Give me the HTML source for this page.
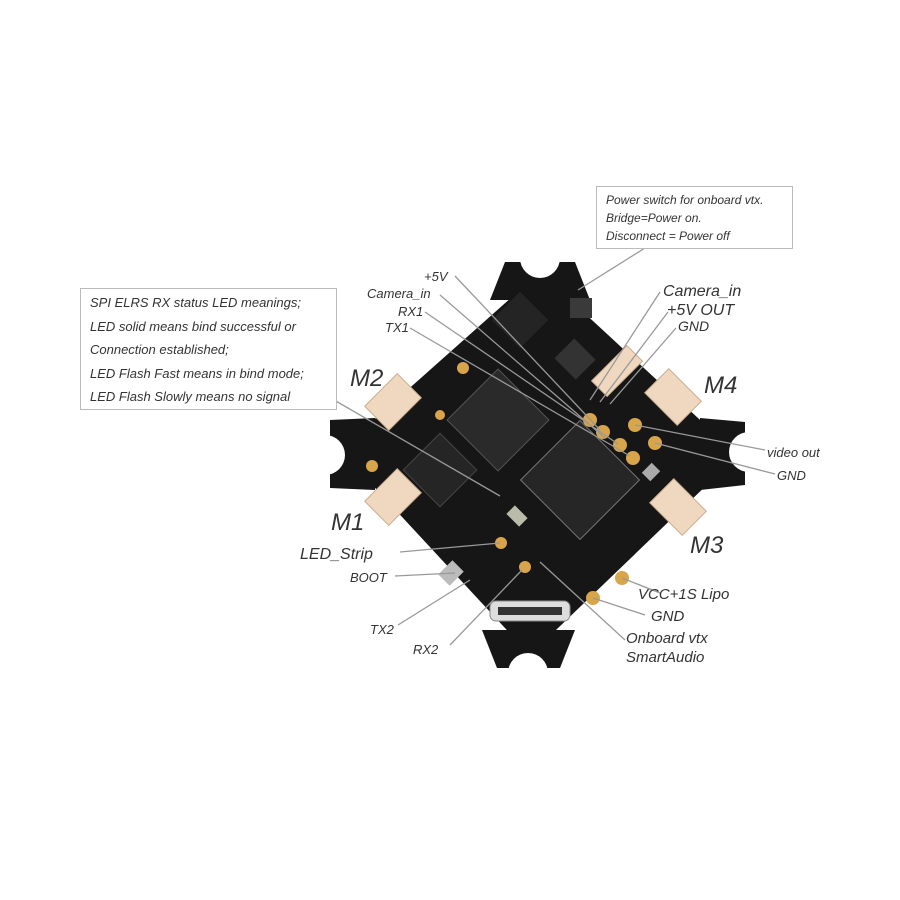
<!DOCTYPE html>
<html><head><style>
body{margin:0;background:#fff;width:900px;height:900px;overflow:hidden}
svg{display:block}
text{font-family:"Liberation Sans",sans-serif;font-style:italic;fill:#333}
</style></head><body>
<svg width="900" height="900" viewBox="0 0 900 900">
<rect width="900" height="900" fill="#fff"/>
<!-- board -->
<g fill="#161616">
<polygon points="540,272 738,455 530,655 340,450"/>
<polygon points="505,262 575,262 590,300 490,300"/>
<polygon points="745,422 745,485 700,490 700,418"/>
<polygon points="497,668 560,668 575,630 482,630"/>
<polygon points="330,420 330,488 375,490 375,418"/>
</g>
<!-- notches -->
<circle cx="540" cy="258" r="20" fill="#fff"/>
<circle cx="749" cy="452" r="20" fill="#fff"/>
<circle cx="528" cy="673" r="20" fill="#fff"/>
<circle cx="325" cy="455" r="20" fill="#fff"/>
<!-- chips -->
<g transform="rotate(45 498 420)"><rect x="462" y="384" width="72" height="72" fill="#2a2a2a" stroke="#555"/></g>
<g transform="rotate(45 580 480)"><rect x="538" y="438" width="84" height="84" fill="#262626" stroke="#777"/></g>
<g transform="rotate(45 440 470)"><rect x="414" y="444" width="52" height="52" fill="#252525" stroke="#444"/></g>
<g transform="rotate(45 520 320)"><rect x="500" y="300" width="40" height="40" fill="#242424"/></g>
<rect x="560" y="345" width="30" height="28" fill="#333" transform="rotate(45 575 359)"/>
<rect x="570" y="298" width="22" height="20" fill="#3a3a3a"/>
<!-- connectors -->
<g fill="#efd8bf" stroke="#c9ad8e">
<rect x="370" y="385" width="46" height="34" transform="rotate(-45 393 402)"/>
<rect x="370" y="480" width="46" height="34" transform="rotate(-45 393 497)"/>
<rect x="650" y="380" width="46" height="34" transform="rotate(45 673 397)"/>
<rect x="655" y="490" width="46" height="34" transform="rotate(45 678 507)"/>
<rect x="592" y="360" width="50" height="22" transform="rotate(-45 617 371)"/>
</g>
<!-- pads -->
<g fill="#d9a54a">
<circle cx="590" cy="420" r="7"/><circle cx="603" cy="432" r="7"/><circle cx="620" cy="445" r="7"/><circle cx="633" cy="458" r="7"/>
<circle cx="635" cy="425" r="7"/><circle cx="655" cy="443" r="7"/>
<circle cx="501" cy="543" r="6"/><circle cx="525" cy="567" r="6"/>
<circle cx="440" cy="415" r="5"/>
<circle cx="622" cy="578" r="7"/><circle cx="593" cy="598" r="7"/>
<circle cx="372" cy="466" r="6"/><circle cx="463" cy="368" r="6"/>
</g>
<rect x="443" y="563" width="16" height="20" fill="#bbb" transform="rotate(45 451 573)"/>
<rect x="645" y="465" width="12" height="14" fill="#aaa" transform="rotate(45 651 472)"/>
<rect x="490" y="601" width="80" height="20" rx="6" fill="#ddd" stroke="#888"/>
<rect x="498" y="607" width="64" height="8" fill="#333"/>
<rect x="508" y="510" width="18" height="12" fill="#bba" transform="rotate(45 517 516)"/>
<!-- leader lines -->
<g stroke="#999" stroke-width="1.3" fill="none">
<line x1="578" y1="290" x2="645" y2="248"/>
<line x1="322" y1="393" x2="500" y2="496"/>
<line x1="455" y1="276" x2="600" y2="430"/>
<line x1="440" y1="295" x2="605" y2="438"/>
<line x1="425" y1="312" x2="618" y2="444"/>
<line x1="410" y1="328" x2="630" y2="456"/>
<line x1="660" y1="292" x2="590" y2="400"/>
<line x1="668" y1="312" x2="600" y2="402"/>
<line x1="676" y1="328" x2="610" y2="404"/>
<line x1="635" y1="425" x2="765" y2="450"/>
<line x1="655" y1="443" x2="775" y2="474"/>
<line x1="400" y1="552" x2="500" y2="543"/>
<line x1="395" y1="576" x2="455" y2="573"/>
<line x1="398" y1="625" x2="470" y2="580"/>
<line x1="450" y1="645" x2="522" y2="570"/>
<line x1="622" y1="578" x2="660" y2="593"/>
<line x1="593" y1="598" x2="645" y2="615"/>
<line x1="540" y1="562" x2="625" y2="640"/>
</g>
<!-- boxes -->
<rect x="80.5" y="288.5" width="256" height="121" fill="#fff" stroke="#bbb"/>
<text x="90" y="307" font-size="13">SPI ELRS RX status LED meanings;</text>
<text x="90" y="331" font-size="13">LED solid means bind successful or</text>
<text x="90" y="354" font-size="13">Connection established;</text>
<text x="90" y="378" font-size="13">LED Flash Fast means in bind mode;</text>
<text x="90" y="401" font-size="13">LED Flash Slowly means no signal</text>
<rect x="596.5" y="186.5" width="196" height="62" fill="#fff" stroke="#bbb"/>
<text x="606" y="204" font-size="12">Power switch for onboard vtx.</text>
<text x="606" y="222" font-size="12">Bridge=Power on.</text>
<text x="606" y="240" font-size="12">Disconnect = Power off</text>
<!-- labels -->
<g font-size="13">
<text x="424" y="281">+5V</text>
<text x="367" y="298">Camera_in</text>
<text x="398" y="316">RX1</text>
<text x="385" y="332">TX1</text>
<text x="663" y="296" font-size="16">Camera_in</text>
<text x="667" y="315" font-size="16">+5V OUT</text>
<text x="678" y="331" font-size="14">GND</text>
<text x="767" y="457">video out</text>
<text x="777" y="480">GND</text>
<text x="300" y="559" font-size="16">LED_Strip</text>
<text x="350" y="582">BOOT</text>
<text x="370" y="634">TX2</text>
<text x="413" y="654">RX2</text>
<text x="638" y="599" font-size="15">VCC+1S Lipo</text>
<text x="651" y="621" font-size="15">GND</text>
<text x="626" y="643" font-size="15">Onboard vtx</text>
<text x="626" y="662" font-size="15">SmartAudio</text>
</g>
<g font-size="24" fill="#333">
<text x="350" y="386">M2</text>
<text x="704" y="393">M4</text>
<text x="331" y="530">M1</text>
<text x="690" y="553">M3</text>
</g>
</svg>
</body></html>
